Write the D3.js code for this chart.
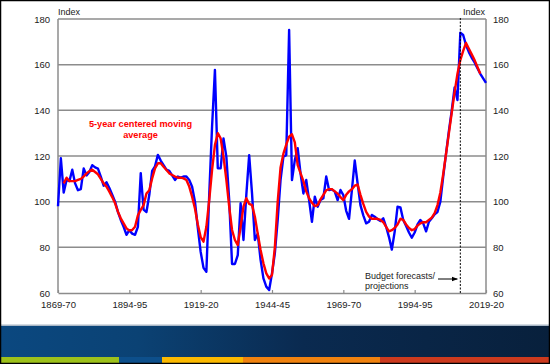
<!DOCTYPE html>
<html>
<head>
<meta charset="utf-8">
<script src="https://cdn.jsdelivr.net/npm/d3@7"></script>
<style>
  html, body { margin: 0; padding: 0; background: #fff; }
  svg { display: block; }
  text { font-family: "Liberation Sans", Arial, sans-serif; }
</style>
</head>
<body>
<svg id="chart" width="550" height="364"></svg>
<script>
// ---- Data ----
const annualStart = 1869;
const annualIndex = [
  98, 119, 104, 109.5, 109, 114, 108, 105, 105.5, 114.5,
  111.5, 113, 116, 115, 114.5, 111, 107, 108.5, 106, 103,
  100, 95.5, 92, 89, 85.5, 87.5, 86, 85.5, 89, 112.5,
  96.5, 95.5, 103, 113.5, 115.5, 120.5, 118, 116, 114, 113.5,
  111.5, 109.5, 111, 110.5, 111, 111, 109.5, 106.5, 100, 88.5,
  78, 71, 69.3, 103, 133, 157.7, 114.6, 114.6, 127.7, 119.7,
  100.7, 72.7, 72.7, 76.6, 99.3, 83.2, 103, 120.4, 103.6, 83.2,
  86, 74.5, 66.4, 62.8, 61.3, 68.6, 77.4, 92, 109.5, 119.7,
  120.4, 175.2, 109.5, 118.2, 123.4, 112.4, 103.6, 109.5, 100.7, 91.2,
  102.2, 97.8, 100.7, 101.5, 111, 105.1, 105.4, 104.4, 100.7, 105.1,
  102.9, 96, 92.5, 105, 118, 108, 98.5, 94, 90.5, 91.2,
  94.2, 93.4, 92.3, 91.5, 92.7, 89, 84.5, 79, 86.9, 97.8,
  97.5, 92, 89.3, 86.5, 84.2, 86.5, 90, 92, 90.5, 87,
  91.2, 92.7, 94.5, 95.5, 100, 111, 121, 131, 140, 150,
  144.5, 174, 173, 168.6, 165.5, 163, 161, 158.5, 156, 154,
  152
];
const maStart = 1871;
const movingAverage = [
  108, 110.5, 109, 109, 109, 109.5, 110, 111, 112.4, 113.4,
  114, 113, 112, 110, 108, 106.6, 104.4, 102, 99.3, 95.6,
  92.7, 90.5, 88.3, 87.4, 87.6, 89, 94, 96.4, 98.5, 103.6,
  105, 110.2, 114.6, 116.8, 116.8, 115.3, 113.9, 112.4, 111.7, 111,
  110.5, 110.5, 110.2, 109.5, 106.6, 102.2, 97, 90, 84.5, 82.5,
  89, 100.7, 113.9, 124.8, 130, 127.7, 119.7, 109.5, 97.8, 87.6,
  83.2, 81, 89, 97.8, 101.5, 99, 98.5, 93.4, 86, 78.8,
  73, 68.6, 66.4, 67.9, 80, 100, 115, 121, 125, 128.5,
  129.5, 126, 116, 112.5, 109, 104.5, 101.5, 99.5, 98, 98.5,
  101, 103, 105, 105.5, 105.5, 104.5, 103.5, 102, 100.7, 103,
  104.5, 105.5, 107, 107.5, 103, 99, 95.5, 93.5, 92.5, 92.5,
  92.5, 92, 91, 89, 87, 87.5, 88.5, 90, 92.5, 92,
  90, 88.5, 87.5, 88, 89.5, 90.5, 91, 91, 92, 93,
  95, 98.5, 104, 112, 121, 130, 139, 148, 156, 162,
  166, 169.5, 167, 164.5, 162, 159, 156
];
const xTickYears = [1869, 1894, 1919, 1944, 1969, 1994, 2019];
const yTicks = [60, 80, 100, 120, 140, 160, 180];
const forecastStartYear = 2010;
const labels = {
  yLeft: "Index",
  yRight: "Index",
  ma: ["5-year centered moving", "average"],
  forecast: ["Budget forecasts/", "projections"]
};
const stripColors = ["#9dc11b", "#0d4f8b", "#fbb900", "#f0820f", "#cc3a1e"];
const stripBreaks = [0, 119, 162, 243, 380, 550];

// ---- Build ----
const annual = annualIndex.map((v, i) => ({ year: annualStart + i, v }));
const ma = movingAverage.map((v, i) => ({ year: maStart + i, v }));

const svg = d3.select("#chart");
const W = 550, H = 364;
const plot = { left: 58, right: 486, top: 19, bottom: 293 };

const x = d3.scaleLinear().domain([1869, 2019]).range([plot.left, plot.right]);
const y = d3.scaleLinear().domain([60, 180]).range([plot.bottom, plot.top]);

svg.append("rect").attr("width", W).attr("height", H).attr("fill", "#fff");

// gridlines
svg.append("g")
  .selectAll("line")
  .data(yTicks.filter(t => t > 60))
  .join("line")
  .attr("x1", plot.left).attr("x2", plot.right)
  .attr("y1", d => y(d)).attr("y2", d => y(d))
  .attr("stroke", "#8c8c8c").attr("stroke-width", 1.5);

// frame left/right/bottom
const frame = svg.append("g").attr("stroke", "#8c8c8c").attr("stroke-width", 1.5);
frame.append("line").attr("x1", plot.left).attr("x2", plot.left).attr("y1", plot.top).attr("y2", plot.bottom);
frame.append("line").attr("x1", plot.right).attr("x2", plot.right).attr("y1", plot.top).attr("y2", plot.bottom);

// bottom axis
const fmtFY = d => d + "-" + String(d + 1).slice(2);
const xAxis = d3.axisBottom(x).tickValues(xTickYears).tickFormat(fmtFY)
  .tickSizeInner(-3).tickSizeOuter(0).tickPadding(8);
const gx = svg.append("g").attr("transform", `translate(0,${plot.bottom})`).call(xAxis);
gx.select(".domain").attr("stroke", "#8c8c8c").attr("stroke-width", 1.5);
gx.selectAll(".tick line").attr("stroke", "#8c8c8c").attr("stroke-width", 1.2);
gx.selectAll("text").attr("font-size", 9.5).attr("fill", "#222")
  .attr("font-family", "Liberation Sans, Arial, sans-serif");

// left axis
const yAxisL = d3.axisLeft(y).tickValues(yTicks).tickSize(0).tickPadding(8);
const gyl = svg.append("g").attr("transform", `translate(${plot.left},0)`).call(yAxisL);
gyl.select(".domain").remove();
gyl.selectAll("text").attr("font-size", 9.5).attr("fill", "#222")
  .attr("font-family", "Liberation Sans, Arial, sans-serif");

// right axis
const yAxisR = d3.axisRight(y).tickValues(yTicks).tickSize(0).tickPadding(7);
const gyr = svg.append("g").attr("transform", `translate(${plot.right},0)`).call(yAxisR);
gyr.select(".domain").remove();
gyr.selectAll("text").attr("font-size", 9.5).attr("fill", "#222")
  .attr("font-family", "Liberation Sans, Arial, sans-serif");

// unit labels
svg.append("text").attr("x", plot.left).attr("y", 15).attr("font-size", 9)
  .attr("fill", "#222").text(labels.yLeft);
svg.append("text").attr("x", plot.right - 1).attr("y", 15).attr("font-size", 9)
  .attr("fill", "#222").attr("text-anchor", "end").text(labels.yRight);

// lines
const line = d3.line().x(d => x(d.year)).y(d => y(d.v));
svg.append("path").datum(annual).attr("d", line)
  .attr("fill", "none").attr("stroke", "#0000ff").attr("stroke-width", 2.4)
  .attr("stroke-linejoin", "round");
svg.append("path").datum(ma).attr("d", line)
  .attr("fill", "none").attr("stroke", "#ff0000").attr("stroke-width", 2.4)
  .attr("stroke-linejoin", "round");

// forecast dashed line
svg.append("line")
  .attr("x1", x(forecastStartYear)).attr("x2", x(forecastStartYear))
  .attr("y1", plot.top - 1).attr("y2", plot.bottom)
  .attr("stroke", "#000").attr("stroke-width", 1).attr("stroke-dasharray", "2,1.5");

// forecast annotation
const fa = svg.append("text").attr("x", 365).attr("y", 279).attr("font-size", 9).attr("fill", "#222");
fa.append("tspan").attr("x", 365).attr("dy", 0).text(labels.forecast[0]);
fa.append("tspan").attr("x", 365).attr("dy", 9.8).text(labels.forecast[1]);
svg.append("defs").append("marker").attr("id", "arr")
  .attr("viewBox", "0 0 10 10").attr("refX", 9).attr("refY", 5)
  .attr("markerWidth", 6).attr("markerHeight", 6).attr("orient", "auto")
  .append("path").attr("d", "M0,1 L10,5 L0,9 Z").attr("fill", "#000");
svg.append("line").attr("x1", 438).attr("x2", x(forecastStartYear) - 3)
  .attr("y1", 279).attr("y2", 279)
  .attr("stroke", "#000").attr("stroke-width", 1).attr("marker-end", "url(#arr)");

// moving-average label
const ml = svg.append("text").attr("x", 140.5).attr("y", 127)
  .attr("font-size", 9.2).attr("font-weight", "bold").attr("fill", "#ff0000")
  .attr("text-anchor", "middle");
ml.append("tspan").attr("x", 140.5).attr("dy", 0).text(labels.ma[0]);
ml.append("tspan").attr("x", 140.5).attr("dy", 10.5).text(labels.ma[1]);

// footer banner
const defs = svg.select("defs");
const grad = defs.append("linearGradient").attr("id", "ban").attr("x1", 0).attr("x2", 1).attr("y1", 0).attr("y2", 0);
grad.append("stop").attr("offset", "0%").attr("stop-color", "#0b4880");
grad.append("stop").attr("offset", "25%").attr("stop-color", "#0b4274");
grad.append("stop").attr("offset", "55%").attr("stop-color", "#0a2a50");
grad.append("stop").attr("offset", "100%").attr("stop-color", "#08203c");
svg.append("rect").attr("x", 0).attr("y", 324.5).attr("width", W).attr("height", 1.5).attr("fill", "#a9b7c6");
svg.append("rect").attr("x", 0).attr("y", 326).attr("width", W).attr("height", 31).attr("fill", "url(#ban)");
svg.append("g").selectAll("rect").data(stripColors).join("rect")
  .attr("x", (d, i) => stripBreaks[i]).attr("y", 357)
  .attr("width", (d, i) => stripBreaks[i + 1] - stripBreaks[i]).attr("height", 6)
  .attr("fill", d => d);

// outer black border
svg.append("rect").attr("x", 0.5).attr("y", 0.5).attr("width", W - 1).attr("height", H - 1)
  .attr("fill", "none").attr("stroke", "#000").attr("stroke-width", 1.5);
</script>
</body>
</html>
